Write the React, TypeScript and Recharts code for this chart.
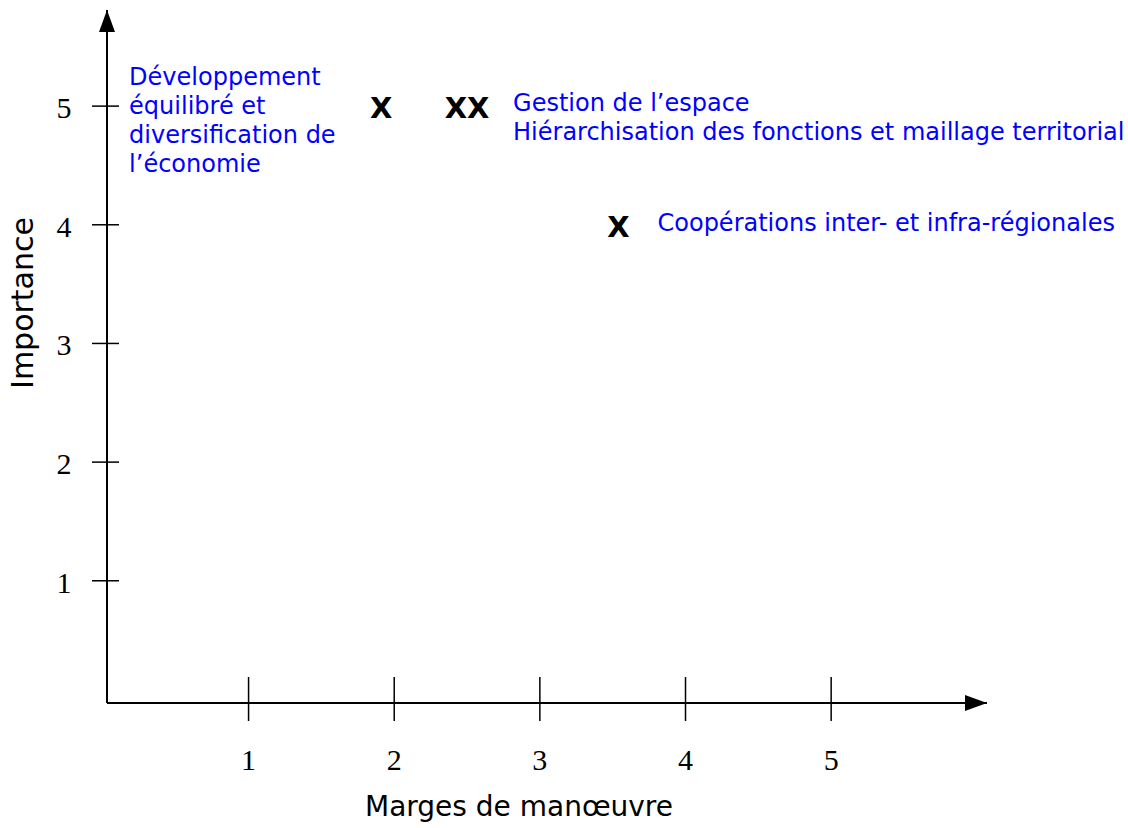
import { Scatter, ScatterChart, XAxis, YAxis } from "recharts";

// values
const margins = [1.91, 2.5, 3.54];
const importance = [5, 5, 4];
const marks = ["X", "XX", "X"];
const themes = [
  ["Développement", "équilibré et", "diversification de", "l’économie"],
  ["Gestion de l’espace", "Hiérarchisation des fonctions et maillage territorial"],
  ["Coopérations inter- et infra-régionales"],
];
const xTicks = [1, 2, 3, 4, 5];
const yTicks = [1, 2, 3, 4, 5];

const points = margins.map((m, i) => ({
  idx: i,
  margin: m,
  importance: importance[i],
  mark: marks[i],
  lines: themes[i],
}));

// where each label block sits relative to its mark
const labelOffsets = [
  { dx: -252, dy: -21 },
  { dx: 46, dy: 5 },
  { dx: 39, dy: 6 },
];

const sans = "'DejaVu Sans', Verdana, sans-serif";
const serif = "'Liberation Serif', 'Times New Roman', serif";
const blue = "#0000ff";

function YTick({ x, y, payload }: any) {
  return (
    <g>
      <line x1={x - 15} x2={x + 12} y1={y} y2={y} stroke="#000" strokeWidth={1.5} />
      <text x={x - 43} y={y + 12} textAnchor="middle" fontFamily={serif} fontSize={30} fill="#000">
        {payload.value}
      </text>
    </g>
  );
}

function XTick({ x, y, payload }: any) {
  return (
    <g>
      <line x1={x} x2={x} y1={y - 26} y2={y + 18} stroke="#000" strokeWidth={1.5} />
      <text x={x} y={y + 67} textAnchor="middle" fontFamily={serif} fontSize={30} fill="#000">
        {payload.value}
      </text>
    </g>
  );
}

function MarkShape(props: any) {
  const { cx, cy, payload } = props;
  const off = labelOffsets[payload.idx];
  return (
    <g>
      <text x={cx} y={cy + 12} textAnchor="middle" fontFamily={sans} fontWeight="bold" fontSize={29} fill="#000">
        {payload.mark}
      </text>
      {payload.lines.map((line: string, i: number) => (
        <text key={i} x={cx + off.dx} y={cy + off.dy + i * 29} fontFamily={sans} fontSize={24} fill={blue}>
          {line}
        </text>
      ))}
    </g>
  );
}

export default function App() {
  return (
    <div style={{ position: "relative", width: 1128, height: 828, background: "#fff" }}>
      <style>{"body{margin:0}"}</style>
      <svg width={0} height={0} style={{ position: "absolute" }}>
        <defs>
          <marker
            id="axisArrow"
            markerUnits="userSpaceOnUse"
            markerWidth={22}
            markerHeight={16}
            refX={22}
            refY={8}
            orient="auto-start-reverse"
          >
            <path d="M0,0 L22,8 L0,16 Z" fill="#000" />
          </marker>
        </defs>
      </svg>
      <ScatterChart width={1128} height={828} margin={{ top: 10, right: 141, bottom: 124, left: 106 }}>
        <XAxis
          type="number"
          dataKey="margin"
          domain={[0.028, 6.07]}
          ticks={xTicks}
          height={1}
          tickSize={0}
          tickMargin={0}
          tickLine={false}
          tick={<XTick />}
          axisLine={{ stroke: "#000", strokeWidth: 2, markerEnd: "url(#axisArrow)" }}
        />
        <YAxis
          type="number"
          dataKey="importance"
          domain={[-0.03, 5.81]}
          ticks={yTicks}
          width={1}
          tickSize={0}
          tickMargin={0}
          tickLine={false}
          tick={<YTick />}
          axisLine={{ stroke: "#000", strokeWidth: 2, markerStart: "url(#axisArrow)" }}
        />
        <Scatter data={points} dataKey="importance" isAnimationActive={false} shape={(p: any) => <MarkShape {...p} />} />
        <text x={33} y={303} transform="rotate(-90 33 303)" textAnchor="middle" fontFamily={sans} fontSize={30} fill="#000">
          Importance
        </text>
        <text x={519} y={816} textAnchor="middle" fontFamily={sans} fontSize={28} fill="#000">
          Marges de manœuvre
        </text>
      </ScatterChart>
    </div>
  );
}
